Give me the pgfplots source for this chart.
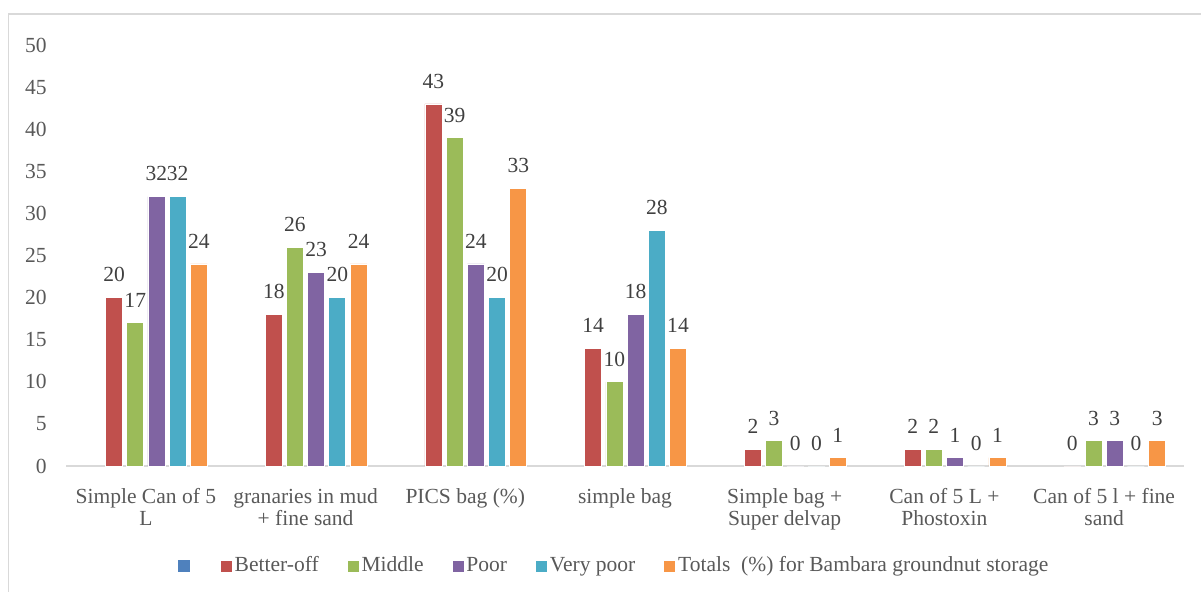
\documentclass[border=0pt]{standalone}
\usepackage{pgfplots}
\pgfplotsset{compat=1.18}
\usepackage{fontspec}
\setmainfont{Liberation Serif}
\definecolor{cBlue}{HTML}{4F81BD}
\definecolor{cRed}{HTML}{C0504D}
\definecolor{cGreen}{HTML}{9BBB59}
\definecolor{cPurple}{HTML}{8064A2}
\definecolor{cAqua}{HTML}{4BACC6}
\definecolor{cOrange}{HTML}{F79646}
\definecolor{tickgray}{HTML}{595959}
\definecolor{lblgray}{HTML}{404040}
\definecolor{framegray}{HTML}{D9D9D9}
\begin{document}
\fontsize{10.8}{11}\selectfont
\begin{tikzpicture}
\useasboundingbox (0,0) rectangle (600.5bp,296bp);
\draw[color=framegray, line width=0.9bp] (4.25bp,-10bp) -- (4.25bp,289bp) -- (620bp,289bp);
\begin{axis}[
  at={(33bp,63bp)}, anchor=south west,
  scale only axis, width=559bp, height=210.5bp,
  xmin=-0.5, xmax=6.5, ymin=0, ymax=50,
  ytick={0,5,...,50},
  xtick={0,...,6},
  xticklabels={{Simple Can of 5\\L},{granaries in mud\\+ fine sand},{PICS bag (\%)},{simple bag},{Simple bag +\\Super delvap},{Can of 5 L +\\Phostoxin},{Can of 5 l + fine\\sand}},
  ybar, bar width=8.5bp,
  axis line style={draw=none},
  major tick length=0pt,
  tick style={draw=none},
  /pgf/number format/assume math mode=true,
  ticklabel style={text=tickgray},
  yticklabel style={anchor=east, inner sep=0pt, xshift=-9.5bp},
  xticklabel style={anchor=north, inner sep=0pt, yshift=-11bp, align=center, font=\fontsize{10.8}{11}\selectfont},
  nodes near coords,
  every node near coord/.append style={text=lblgray, inner sep=0pt, anchor=south, yshift=7.5bp},
  clip=false,
  legend columns=-1,
  legend image code/.code={\fill[#1] (0bp,-3bp) rectangle (6bp,3bp);},
  legend style={draw=none, fill=none, at={(0.4903,-0.2375)}, anchor=center, text=tickgray,
    nodes={inner sep=1bp},
    /tikz/every even column/.append style={column sep=13bp}},
]
\draw[framegray, line width=1bp] (rel axis cs:0,0) -- (rel axis cs:1,0);
\addlegendimage{fill=cBlue, draw=none}
\addlegendentry{}
\addplot[fill=cRed, draw=white, line width=0.4bp, bar shift=-15.9bp] coordinates {(0,20) (1,18) (2,43) (3,14) (4,2) (5,2) (6,0)};
\addlegendentry{Better-off}
\addplot[fill=cGreen, draw=white, line width=0.4bp, bar shift=-5.3bp] coordinates {(0,17) (1,26) (2,39) (3,10) (4,3) (5,2) (6,3)};
\addlegendentry{Middle}
\addplot[fill=cPurple, draw=white, line width=0.4bp, bar shift=5.3bp] coordinates {(0,32) (1,23) (2,24) (3,18) (4,0) (5,1) (6,3)};
\addlegendentry{Poor}
\addplot[fill=cAqua, draw=white, line width=0.4bp, bar shift=15.9bp] coordinates {(0,32) (1,20) (2,20) (3,28) (4,0) (5,0) (6,0)};
\addlegendentry{Very poor}
\addplot[fill=cOrange, draw=white, line width=0.4bp, bar shift=26.5bp] coordinates {(0,24) (1,24) (2,33) (3,14) (4,1) (5,1) (6,3)};
\addlegendentry{Totals\ \ (\%) for Bambara groundnut storage}
\end{axis}
\end{tikzpicture}
\end{document}
